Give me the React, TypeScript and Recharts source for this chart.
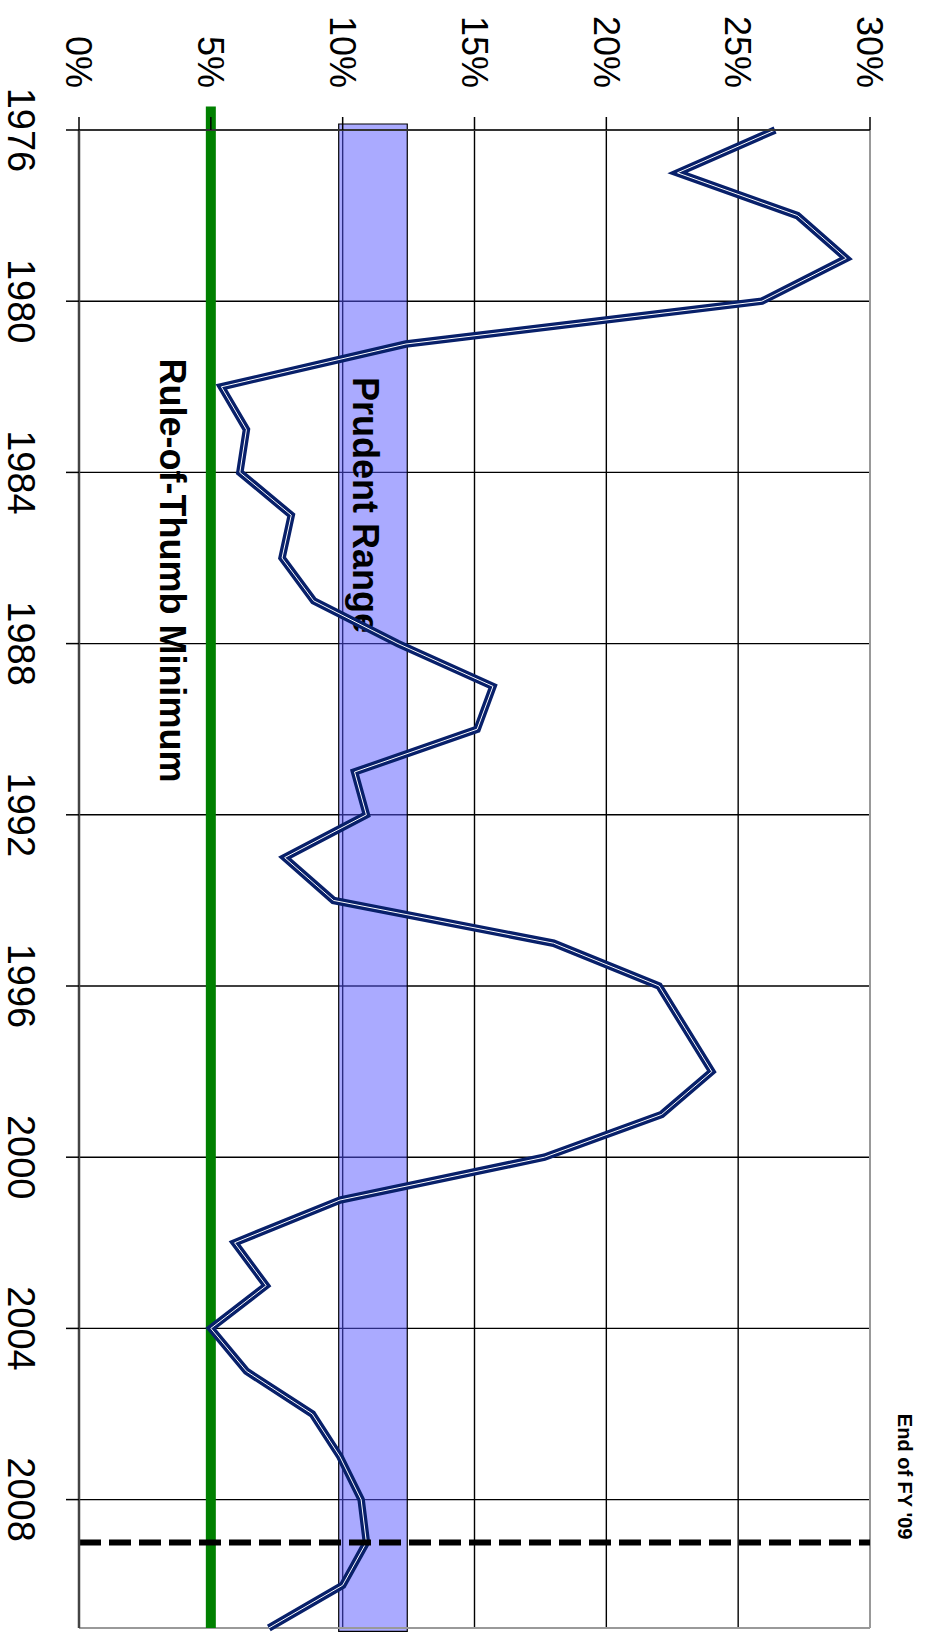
import React from 'react';
import {
  LineChart,
  Line,
  XAxis,
  YAxis,
  CartesianGrid,
  ReferenceArea,
  ReferenceLine,
} from 'recharts';

// Fund balance as a share of expenditures, fiscal years 1976–2011
const YEARS: number[] = [
  1976, 1977, 1978, 1979, 1980, 1981, 1982, 1983, 1984, 1985, 1986, 1987,
  1988, 1989, 1990, 1991, 1992, 1993, 1994, 1995, 1996, 1997, 1998, 1999,
  2000, 2001, 2002, 2003, 2004, 2005, 2006, 2007, 2008, 2009, 2010, 2011,
];
const RESERVE_PCT: number[] = [
  26.4, 22.7, 27.25, 29.1, 25.9, 12.4, 5.4, 6.35, 6.1, 8.05, 7.7, 8.9,
  12.1, 15.7, 15.1, 10.45, 10.9, 7.8, 9.65, 18.0, 22.0, 23.0, 24.0, 22.1,
  17.65, 9.9, 5.9, 7.1, 5.0, 6.35, 8.85, 9.9, 10.7, 10.9, 10.0, 7.2,
];

const YEAR_TICKS: number[] = [1976, 1980, 1984, 1988, 1992, 1996, 2000, 2004, 2008];
const PCT_TICKS: number[] = [0, 5, 10, 15, 20, 25, 30];

// Reference bands and markers
const PRUDENT_LOW = 9.85;
const PRUDENT_HIGH = 12.45;
const PRUDENT_FROM = 1975.86;
const PRUDENT_TO = 2011.08;
const MINIMUM_PCT = 5;
const MINIMUM_FROM = 1975.45;
const MINIMUM_TO = 2011;
const FY_END = 2009;

const data = YEARS.map((year, i) => ({ year, pct: RESERVE_PCT[i] }));

const FONT = '"Liberation Sans", Arial, sans-serif';

const PrudentLabel = (props: any) => {
  const vb = props.viewBox || {};
  return (
    <text
      x={vb.x + 253}
      y={vb.y + 54}
      fontFamily={FONT}
      fontWeight="bold"
      fontSize={36}
      fill="#000"
    >
      Prudent Range
    </text>
  );
};

const MinimumLabel = (props: any) => {
  const vb = props.viewBox || {};
  return (
    <text
      x={vb.x + 252}
      y={vb.y + 51}
      fontFamily={FONT}
      fontWeight="bold"
      fontSize={36}
      fill="#000"
    >
      Rule-of-Thumb Minimum
    </text>
  );
};

const FyLabel = (props: any) => {
  const vb = props.viewBox || {};
  return (
    <text
      x={vb.x - 3}
      y={vb.y - 28}
      textAnchor="end"
      fontFamily={FONT}
      fontWeight="bold"
      fontSize={20}
      fill="#000"
    >
      End of FY '09
    </text>
  );
};

const W = 1637;
const H = 930;

export default function App() {
  return (
    <div
      style={{
        position: 'absolute',
        top: 0,
        left: 0,
        width: H,
        height: W,
        overflow: 'hidden',
        background: '#fff',
      }}
    >
      <div
        style={{
          width: W,
          height: H,
          transformOrigin: '0 0',
          transform: `translate(${H}px, 0) rotate(90deg)`,
        }}
      >
        <LineChart
          width={W}
          height={H}
          data={data}
          margin={{ top: 60, right: 9, bottom: 0, left: 0 }}
        >
          <ReferenceArea
            x1={PRUDENT_FROM}
            x2={PRUDENT_TO}
            y1={PRUDENT_LOW}
            y2={PRUDENT_HIGH}
            fill="#5555ff"
            fillOpacity={0.5}
            stroke="#000"
            strokeWidth={1.2}
            strokeOpacity={1}
            ifOverflow="visible"
            label={<PrudentLabel />}
          />
          <CartesianGrid stroke="#000" strokeWidth={1.4} strokeDasharray="" />
          <XAxis
            dataKey="year"
            type="number"
            domain={[1976, 2011]}
            ticks={YEAR_TICKS}
            interval={0}
            height={79}
            tickSize={13}
            tickMargin={31}
            axisLine={{ stroke: '#444', strokeWidth: 2.5 }}
            tickLine={{ stroke: '#000', strokeWidth: 1.5 }}
            tick={{ fontSize: 38, fill: '#000', fontFamily: FONT }}
          />
          <YAxis
            type="number"
            domain={[0, 30]}
            ticks={PCT_TICKS}
            interval={0}
            width={130}
            tickSize={13}
            tickMargin={29}
            tickFormatter={(v: number) => `${v}%`}
            axisLine={{ stroke: '#333', strokeWidth: 2 }}
            tickLine={{ stroke: '#000', strokeWidth: 1.5 }}
            tick={{ fontSize: 36, fill: '#000', fontFamily: FONT }}
          />
          {/* plot frame on the far sides */}
          <ReferenceLine y={30} stroke="#999" strokeWidth={2} />
          <ReferenceLine x={2011} stroke="#999" strokeWidth={2} />
          <ReferenceLine
            segment={[
              { x: MINIMUM_FROM, y: MINIMUM_PCT },
              { x: MINIMUM_TO, y: MINIMUM_PCT },
            ]}
            stroke="#008000"
            strokeWidth={10}
            ifOverflow="visible"
            label={<MinimumLabel />}
          />
          <Line
            dataKey="pct"
            stroke="#08206a"
            strokeWidth={7.5}
            dot={false}
            activeDot={false}
            isAnimationActive={false}
          />
          <Line
            dataKey="pct"
            stroke="#ffffff"
            strokeWidth={1}
            dot={false}
            activeDot={false}
            isAnimationActive={false}
          />
          <ReferenceLine
            x={FY_END}
            stroke="#000"
            strokeWidth={6}
            strokeDasharray="22 8"
            ifOverflow="visible"
            label={<FyLabel />}
          />
        </LineChart>
      </div>
    </div>
  );
}
